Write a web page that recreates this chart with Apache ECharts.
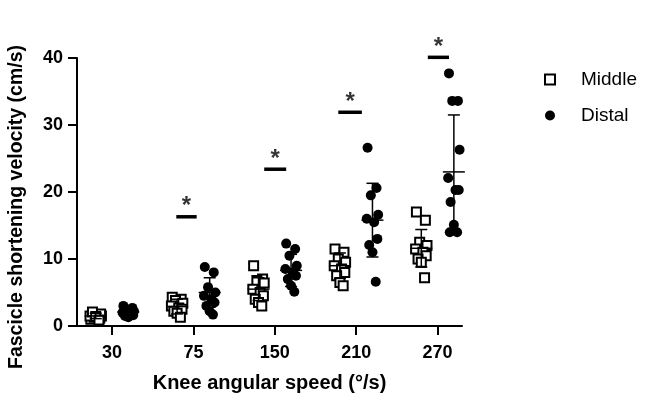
<!DOCTYPE html>
<html>
<head>
<meta charset="utf-8">
<script src="https://cdn.jsdelivr.net/npm/echarts@6/dist/echarts.min.js"></script>
<style>
  html, body { margin: 0; background: #fff; }
  #chart { width: 645px; height: 396px; }
</style>
</head>
<body>
<div id="chart"></div>
<script>
const categories = ['30', '75', '150', '210', '270'];

// individual values per speed (cm/s)
const middleValues = [
  [1.0, 1.2, 1.3, 1.5, 1.5, 1.6, 1.8, 2.1, 1.4, 0.9],
  [4.3, 4.0, 3.8, 3.4, 3.0, 2.7, 2.5, 2.2, 1.9, 1.3],
  [9.0, 7.0, 6.8, 6.4, 5.5, 5.0, 4.5, 4.0, 3.5, 3.0],
  [11.5, 11.0, 10.0, 9.5, 9.0, 8.5, 8.0, 7.5, 6.5, 6.0],
  [17.0, 15.8, 12.5, 12.0, 11.5, 11.0, 10.5, 10.0, 9.5, 7.2]
];
const distalValues = [
  [3.0, 2.7, 2.4, 2.2, 2.0, 1.8, 1.6, 1.5, 1.3, 2.5],
  [8.8, 8.0, 5.8, 5.0, 4.5, 4.0, 3.5, 3.0, 2.2, 1.7],
  [12.3, 11.5, 10.5, 9.0, 8.5, 8.0, 7.5, 7.0, 6.0, 5.1],
  [26.6, 20.6, 19.5, 16.6, 16.0, 15.5, 13.0, 12.1, 11.0, 6.6],
  [37.7, 33.6, 33.6, 26.3, 22.1, 20.3, 20.3, 18.5, 15.1, 14.0, 14.0]
];

// mean and SD
const middleMean = [1.5, 2.9, 5.5, 9.0, 11.6];
const middleSD = [0.4, 1.1, 1.7, 1.9, 2.8];
const distalMean = [2.1, 5.0, 8.3, 15.8, 23.0];
const distalSD = [0.6, 2.2, 2.4, 5.5, 8.5];

// significance bars: category index, left/right offset, height
const sigIndex = [1, 2, 3, 4];
const sigLeft = [-0.21, -0.13, -0.22, -0.12];
const sigRight = [0.04, 0.14, 0.07, 0.14];
const sigHeight = [16.3, 23.4, 31.9, 40.1];

const jitter = [-0.06, 0.05, -0.02, 0.07, -0.07, 0.02, 0.06, -0.04, 0.0, 0.04, -0.05];
const groupOffset = 0.2;

function points(groups, off) {
  const out = [];
  groups.forEach((vals, i) => {
    vals.forEach((v, j) => out.push([i + off + jitter[j % jitter.length], v]));
  });
  return out;
}

function errorBars(means, sds, off) {
  return {
    type: 'custom',
    z: 5,
    silent: true,
    data: means.map((m, i) => [i + off, m, sds[i]]),
    renderItem(params, api) {
      const x = api.value(0), m = api.value(1), s = api.value(2);
      const c = api.coord([x, m]);
      const hi = api.coord([x, m + s]);
      const lo = api.coord([x, Math.max(m - s, 0)]);
      const st = { stroke: '#000', lineWidth: 1.5 };
      return {
        type: 'group',
        children: [
          { type: 'line', shape: { x1: c[0], y1: hi[1], x2: c[0], y2: lo[1] }, style: st },
          { type: 'line', shape: { x1: c[0] - 6, y1: hi[1], x2: c[0] + 6, y2: hi[1] }, style: st },
          { type: 'line', shape: { x1: c[0] - 6, y1: lo[1], x2: c[0] + 6, y2: lo[1] }, style: st },
          { type: 'line', shape: { x1: c[0] - 11, y1: c[1], x2: c[0] + 11, y2: c[1] }, style: st }
        ]
      };
    }
  };
}

const sigSeries = sigIndex.map((ci, k) => ({
  type: 'line',
  silent: true,
  clip: false,
  symbol: 'none',
  lineStyle: { color: '#000', width: 3.5 },
  data: [[ci + sigLeft[k], sigHeight[k]], [ci + sigRight[k], sigHeight[k]]]
}));

const starSeries = {
  type: 'scatter',
  silent: true,
  clip: false,
  symbolSize: 0,
  data: sigIndex.map((ci, k) => [ci + (sigLeft[k] + sigRight[k]) / 2, sigHeight[k]]),
  label: {
    show: true,
    formatter: '*',
    position: 'top',
    distance: -2,
    color: '#000',
    fontSize: 24,
    fontWeight: 'bold',
    fontFamily: 'Liberation Sans'
  }
};

const chart = echarts.init(document.getElementById('chart'));
const font = 'Liberation Sans';
const tickText = { color: '#000', fontSize: 18, fontWeight: 'bold', fontFamily: font };

chart.setOption({
  animation: false,
  backgroundColor: '#fff',
  grid: { left: 77, right: 183, top: 58, bottom: 70, outerBoundsMode: 'none' },
  legend: {
    orient: 'vertical',
    left: 544,
    top: 70,
    padding: 0,
    itemWidth: 10,
    itemHeight: 10,
    itemGap: 17,
    data: ['Middle', 'Distal'],
    textStyle: { color: '#000', fontSize: 19, fontFamily: font, padding: [0, 0, 0, 21] }
  },
  xAxis: {
    type: 'value',
    min: -0.43,
    max: 4.3,
    name: 'Knee angular speed (°/s)',
    nameLocation: 'middle',
    nameGap: 47,
    nameTextStyle: { color: '#000', fontSize: 20, fontWeight: 'bold', fontFamily: font },
    splitLine: { show: false },
    axisLine: { show: true, onZero: false, lineStyle: { color: '#000', width: 2 } },
    axisTick: { show: true, length: 9, customValues: [0, 1, 2, 3, 4], lineStyle: { color: '#000', width: 2 } },
    axisLabel: {
      customValues: [0, 1, 2, 3, 4],
      formatter: v => categories[Math.round(v)],
      margin: 18,
      ...tickText
    }
  },
  yAxis: {
    type: 'value',
    min: 0,
    max: 40,
    interval: 10,
    name: 'Fascicle shortening velocity (cm/s)',
    nameLocation: 'middle',
    nameGap: 50,
    nameTextStyle: { color: '#000', fontSize: 19.5, fontWeight: 'bold', fontFamily: font, padding: [0, 30, 0, 0] },
    splitLine: { show: false },
    axisLine: { show: true, onZero: false, lineStyle: { color: '#000', width: 2 } },
    axisTick: { show: true, length: 9, lineStyle: { color: '#000', width: 2 } },
    axisLabel: { margin: 14, ...tickText }
  },
  series: [
    {
      name: 'Middle',
      type: 'scatter',
      symbol: 'rect',
      symbolSize: 9,
      itemStyle: { color: '#fff', borderColor: '#000', borderWidth: 2, opacity: 1 },
      data: points(middleValues, -groupOffset)
    },
    {
      name: 'Distal',
      type: 'scatter',
      symbol: 'circle',
      symbolSize: 10,
      itemStyle: { color: '#000', opacity: 1 },
      data: points(distalValues, groupOffset)
    },
    errorBars(middleMean, middleSD, -groupOffset),
    errorBars(distalMean, distalSD, groupOffset),
    ...sigSeries,
    starSeries
  ]
});
</script>
</body>
</html>
